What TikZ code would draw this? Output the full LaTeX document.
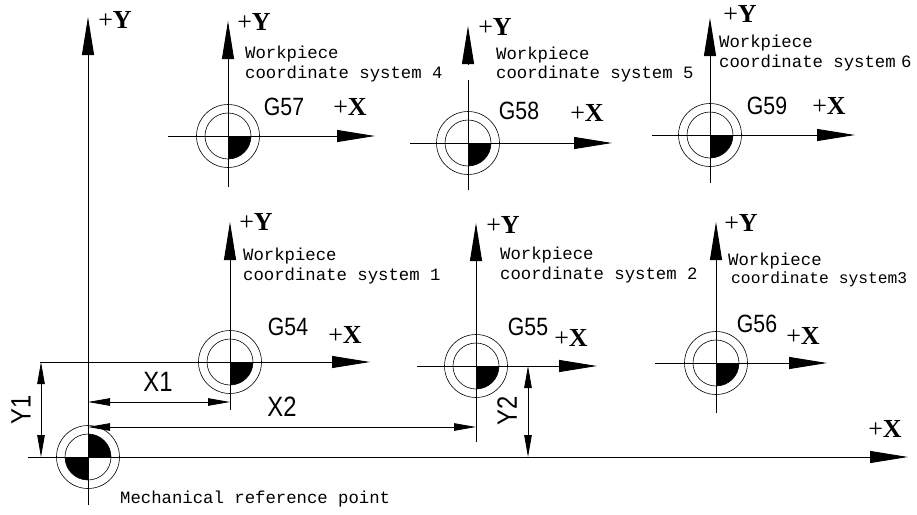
\documentclass[tikz,border=0pt]{standalone}
\usepackage{fontspec}
\setmainfont{Liberation Serif}
\newfontfamily\monof{Liberation Mono}
\newfontfamily\sansf{Liberation Sans}
\usetikzlibrary{arrows.meta}
\begin{document}
\begin{tikzpicture}[x=1pt,y=-1pt,
  axis/.style={line width=0.9pt,-{Triangle[length=38pt,width=12pt]}},
  dimln/.style={line width=0.8pt,{Triangle[length=22pt,width=7.5pt]}-{Triangle[length=22pt,width=7.5pt]}},
  ring/.style={circle,draw,line width=0.6pt,minimum size=63pt,inner sep=0pt},
  core/.style={circle,draw,line width=0.6pt,minimum size=46pt,inner sep=0pt},
  wtext/.style={font=\monof\fontsize{17.3}{20}\selectfont,inner sep=0pt,anchor=base west},
  glab/.style={font=\sansf\fontsize{25}{25}\selectfont,inner sep=0pt},
  dlab/.style={font=\sansf\fontsize{28}{28}\selectfont,inner sep=0pt},
  alab/.style={font=\fontsize{26}{26}\selectfont,inner sep=0pt},
]
\useasboundingbox (0,0) rectangle (917,514);

% origin markers of the workpiece systems
\foreach \n/\x/\y in {57/228/136,58/468/143,59/710/135,54/230/362,55/476/366,56/716/363}{
  \begin{scope}
    \clip (\x,\y) rectangle ++(26,26);
    \fill (\x,\y) circle[radius=23pt];
  \end{scope}
  \node[ring] (r\n) at (\x,\y) {};
  \node[core] (c\n) at (\x,\y) {};
}
% mechanical reference point
\begin{scope}
  \clip (88,457) rectangle ++(26,-26);
  \fill (88,457) circle[radius=23pt];
\end{scope}
\begin{scope}
  \clip (88,457) rectangle ++(-26,26);
  \fill (88,457) circle[radius=23pt];
\end{scope}
\node[ring] (r0) at (88,457) {};
\node[core] (c0) at (88,457) {};

% axis end points
\coordinate (mYa) at (88,505);  \coordinate (mYb) at (88,17);
\coordinate (mXa) at (28,457);  \coordinate (mXb) at (908,457);
\coordinate (y57a) at (228,187); \coordinate (y57b) at (228,21);
\coordinate (x57a) at (168,136); \coordinate (x57b) at (375,136);
\coordinate (y58a) at (468,190); \coordinate (y58b) at (468,80);
\coordinate (y58c) at (468,64);  \coordinate (y58d) at (468,26);
\coordinate (x58a) at (410,143); \coordinate (x58b) at (612,143);
\coordinate (y59a) at (710,183); \coordinate (y59b) at (710,18);
\coordinate (x59a) at (652,135); \coordinate (x59b) at (855,135);
\coordinate (y54a) at (230,410); \coordinate (y54b) at (230,222);
\coordinate (x54a) at (40,362);  \coordinate (x54b) at (370,362);
\coordinate (y55a) at (476,442); \coordinate (y55b) at (476,223);
\coordinate (x55a) at (417,366); \coordinate (x55b) at (597,366);
\coordinate (y56a) at (716,413); \coordinate (y56b) at (716,222);
\coordinate (x56a) at (655,363); \coordinate (x56b) at (827,363);

\draw[axis] (mYa) -- (mYb);
\draw[axis] (mXa) -- (mXb);
\draw[axis] (y57a) -- (y57b);
\draw[axis] (x57a) -- (x57b);
\draw[line width=0.9pt] (y58a) -- (y58b);
\draw[axis] (y58c) -- (y58d);
\draw[axis] (x58a) -- (x58b);
\draw[axis] (y59a) -- (y59b);
\draw[axis] (x59a) -- (x59b);
\draw[axis] (y54a) -- (y54b);
\draw[axis] (x54a) -- (x54b);
\draw[axis] (y55a) -- (y55b);
\draw[axis] (x55a) -- (x55b);
\draw[axis] (y56a) -- (y56b);
\draw[axis] (x56a) -- (x56b);

% dimensions
\coordinate (d1a) at (41,362);  \coordinate (d1b) at (41,457);
\coordinate (d2a) at (528,366); \coordinate (d2b) at (528,457);
\coordinate (d3a) at (88,402);  \coordinate (d3b) at (230,402);
\coordinate (d4a) at (88,427);  \coordinate (d4b) at (476,427);
\draw[dimln] (d1a) -- (d1b);
\draw[dimln] (d2a) -- (d2b);
\draw[dimln] (d3a) -- (d3b);
\draw[dimln] (d4a) -- (d4b);
\node[dlab] (tX1) at (158,382) {\scalebox{0.85}[1]{X1}};
\node[dlab] (tX2) at (282,407) {\scalebox{0.85}[1]{X2}};
\node[dlab,rotate=90] (tY1) at (21,410) {\scalebox{0.85}[1]{Y1}};
\node[dlab,rotate=90] (tY2) at (507,411) {\scalebox{0.85}[1]{Y2}};

% G labels
\node[glab] (g57) at (284,107) {\scalebox{0.85}[1]{G57}};
\node[glab] (g58) at (519,111) {\scalebox{0.85}[1]{G58}};
\node[glab] (g59) at (767,106) {\scalebox{0.85}[1]{G59}};
\node[glab] (g54) at (288,327) {\scalebox{0.85}[1]{G54}};
\node[glab] (g55) at (528,327) {\scalebox{0.85}[1]{G55}};
\node[glab] (g56) at (757,324) {\scalebox{0.85}[1]{G56}};

% axis labels
\node[alab] (lmX) at (885,429) {+\textbf{X}};
\node[alab] (l57X) at (350,107) {+\textbf{X}};
\node[alab] (l58X) at (587,113) {+\textbf{X}};
\node[alab] (l59X) at (829,106) {+\textbf{X}};
\node[alab] (l54X) at (345,335) {+\textbf{X}};
\node[alab] (l55X) at (571,338) {+\textbf{X}};
\node[alab] (l56X) at (803,336) {+\textbf{X}};
\node[alab] (lmY) at (115,20) {+\textbf{Y}};
\node[alab] (l57Y) at (254,22) {+\textbf{Y}};
\node[alab] (l58Y) at (495,27) {+\textbf{Y}};
\node[alab] (l59Y) at (740,14) {+\textbf{Y}};
\node[alab] (l54Y) at (256,222) {+\textbf{Y}};
\node[alab] (l55Y) at (503,225) {+\textbf{Y}};
\node[alab] (l56Y) at (741,223) {+\textbf{Y}};

% descriptions
\node[wtext] (w4a) at (245,58) {Workpiece};
\node[wtext] (w4b) at (245,78) {coordinate system 4};
\node[wtext] (w5a) at (496,59) {Workpiece};
\node[wtext] (w5b) at (496,78) {coordinate system 5};
\node[wtext] (w6a) at (719,47) {Workpiece};
\node[wtext] (w6b) at (719,67) {coordinate system\kern-5pt{} 6};
\node[wtext] (w1a) at (243,260) {Workpiece};
\node[wtext] (w1b) at (243,280) {coordinate system 1};
\node[wtext] (w2a) at (500,259) {Workpiece};
\node[wtext] (w2b) at (500,279) {coordinate system 2};
\node[wtext] (w3a) at (728,265) {Workpiece};
\node[wtext,font=\monof\fontsize{16.3}{20}\selectfont] (w3b) at (731,283) {coordinate system3};
\node[wtext] (mref) at (120,503) {Mechanical reference point};
\end{tikzpicture}
\end{document}
